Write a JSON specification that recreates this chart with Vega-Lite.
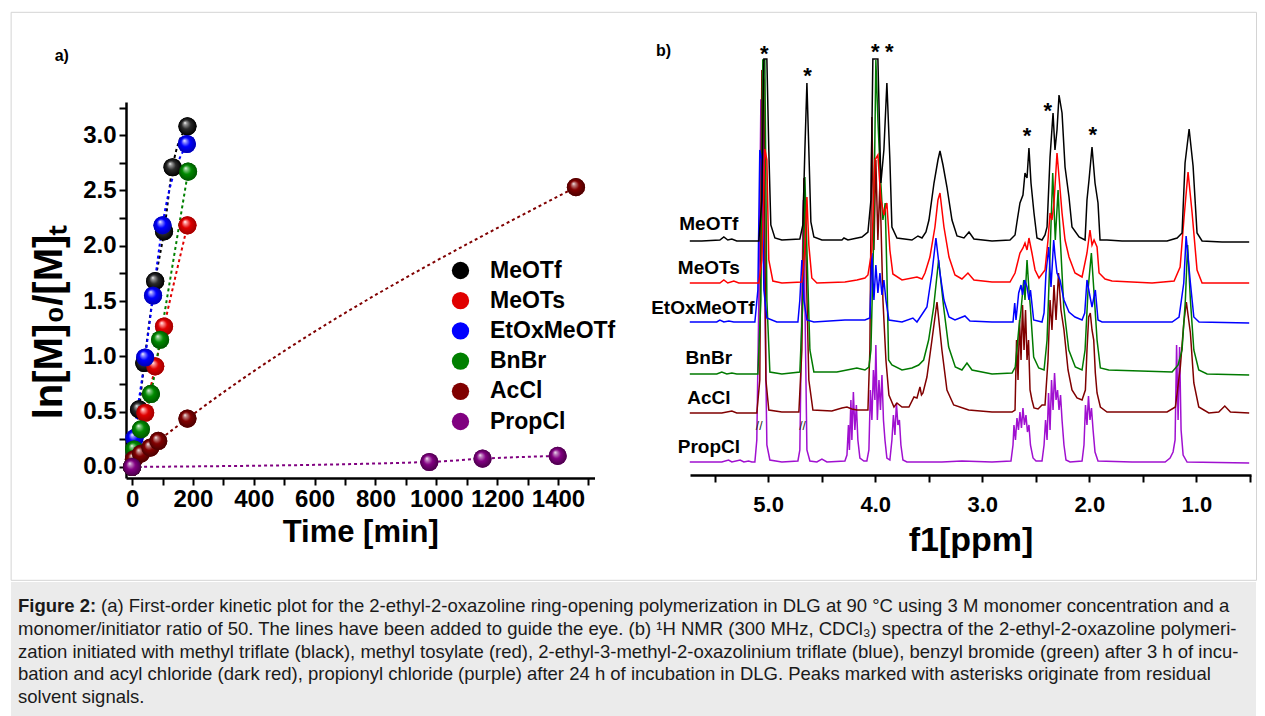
{
"$schema": "https://vega.github.io/schema/vega-lite/v6.json",
"padding": {"left": 10, "top": 11, "right": 0, "bottom": 0},
"background": "white",
"config": {"view": {"stroke": null}, "axis": {"grid": false}, "font": "Liberation Sans"},
"datasets": {
"kin": [
{"s":"MeOTf","t":0,"v":0},{"s":"MeOTf","t":23,"v":0.52},{"s":"MeOTf","t":40,"v":0.94},{"s":"MeOTf","t":76,"v":1.68},{"s":"MeOTf","t":105,"v":2.13},{"s":"MeOTf","t":133,"v":2.71},{"s":"MeOTf","t":182,"v":3.08},
{"s":"MeOTs","t":0,"v":0},{"s":"MeOTs","t":43,"v":0.49},{"s":"MeOTs","t":76,"v":0.91},{"s":"MeOTs","t":105,"v":1.27},{"s":"MeOTs","t":182,"v":2.185},
{"s":"EtOxMeOTf","t":0,"v":0},{"s":"EtOxMeOTf","t":8,"v":0.26},{"s":"EtOxMeOTf","t":43,"v":0.99},{"s":"EtOxMeOTf","t":69,"v":1.55},{"s":"EtOxMeOTf","t":100,"v":2.185},{"s":"EtOxMeOTf","t":180,"v":2.92},
{"s":"BnBr","t":0,"v":0},{"s":"BnBr","t":7,"v":0.16},{"s":"BnBr","t":29,"v":0.34},{"s":"BnBr","t":62,"v":0.66},{"s":"BnBr","t":92,"v":1.15},{"s":"BnBr","t":184,"v":2.67},
{"s":"AcCl","t":0,"v":0},{"s":"AcCl","t":6,"v":0.07},{"s":"AcCl","t":29,"v":0.12},{"s":"AcCl","t":60,"v":0.175},{"s":"AcCl","t":86,"v":0.235},{"s":"AcCl","t":182,"v":0.437},{"s":"AcCl","t":1459,"v":2.53},
{"s":"PropCl","t":0,"v":0},{"s":"PropCl","t":977,"v":0.045},{"s":"PropCl","t":1152,"v":0.075},{"s":"PropCl","t":1399,"v":0.1}
],
"MeOTf": [{"x":5.732,"y":234},{"x":5.62,"y":234},{"x":5.451,"y":235},{"x":5.414,"y":238},{"x":5.377,"y":235},{"x":5.339,"y":236},{"x":5.293,"y":234},{"x":5.087,"y":234},{"x":5.059,"y":275},{"x":5.04,"y":416},{"x":5.012,"y":416},{"x":4.994,"y":325},{"x":4.975,"y":250},{"x":4.937,"y":237},{"x":4.872,"y":235},{"x":4.704,"y":236},{"x":4.676,"y":250},{"x":4.657,"y":325},{"x":4.638,"y":392},{"x":4.62,"y":325},{"x":4.601,"y":253},{"x":4.573,"y":238},{"x":4.498,"y":235},{"x":4.311,"y":235},{"x":4.292,"y":237},{"x":4.255,"y":235},{"x":4.124,"y":238},{"x":4.068,"y":243},{"x":4.04,"y":275},{"x":4.022,"y":416},{"x":3.975,"y":416},{"x":3.947,"y":292},{"x":3.919,"y":325},{"x":3.891,"y":392},{"x":3.863,"y":315},{"x":3.844,"y":248},{"x":3.797,"y":237},{"x":3.657,"y":235},{"x":3.601,"y":239},{"x":3.563,"y":237},{"x":3.526,"y":243},{"x":3.498,"y":255},{"x":3.451,"y":292},{"x":3.414,"y":315},{"x":3.395,"y":324},{"x":3.367,"y":310},{"x":3.33,"y":288},{"x":3.283,"y":255},{"x":3.236,"y":239},{"x":3.171,"y":237},{"x":3.124,"y":243},{"x":3.078,"y":236},{"x":2.909,"y":234},{"x":2.741,"y":235},{"x":2.694,"y":240},{"x":2.676,"y":253},{"x":2.648,"y":272},{"x":2.62,"y":280},{"x":2.601,"y":302},{"x":2.582,"y":297},{"x":2.564,"y":327},{"x":2.545,"y":292},{"x":2.517,"y":262},{"x":2.489,"y":237},{"x":2.442,"y":235},{"x":2.414,"y":240},{"x":2.395,"y":248},{"x":2.367,"y":318},{"x":2.339,"y":362},{"x":2.321,"y":325},{"x":2.302,"y":345},{"x":2.283,"y":380},{"x":2.255,"y":362},{"x":2.227,"y":308},{"x":2.19,"y":278},{"x":2.162,"y":248},{"x":2.096,"y":238},{"x":2.04,"y":235},{"x":2.022,"y":275},{"x":2.003,"y":295},{"x":1.975,"y":328},{"x":1.947,"y":292},{"x":1.919,"y":272},{"x":1.9,"y":235},{"x":1.835,"y":235},{"x":1.694,"y":234},{"x":1.274,"y":234},{"x":1.18,"y":237},{"x":1.134,"y":242},{"x":1.106,"y":312},{"x":1.068,"y":346},{"x":1.031,"y":309},{"x":0.994,"y":242},{"x":0.947,"y":234},{"x":0.76,"y":233},{"x":0.507,"y":233}],
"MeOTs": [{"x":5.732,"y":192},{"x":5.451,"y":192},{"x":5.414,"y":195},{"x":5.377,"y":192},{"x":5.321,"y":194},{"x":5.274,"y":192},{"x":5.087,"y":192},{"x":5.059,"y":215},{"x":5.031,"y":326},{"x":5.012,"y":315},{"x":4.994,"y":215},{"x":4.956,"y":194},{"x":4.872,"y":192},{"x":4.685,"y":193},{"x":4.657,"y":225},{"x":4.638,"y":278},{"x":4.62,"y":230},{"x":4.592,"y":197},{"x":4.545,"y":192},{"x":4.283,"y":193},{"x":4.171,"y":195},{"x":4.096,"y":197},{"x":4.068,"y":200},{"x":4.031,"y":225},{"x":4.003,"y":315},{"x":3.975,"y":320},{"x":3.947,"y":275},{"x":3.919,"y":260},{"x":3.891,"y":272},{"x":3.863,"y":225},{"x":3.835,"y":201},{"x":3.75,"y":195},{"x":3.61,"y":198},{"x":3.563,"y":196},{"x":3.535,"y":202},{"x":3.489,"y":218},{"x":3.442,"y":248},{"x":3.414,"y":275},{"x":3.395,"y":282},{"x":3.358,"y":248},{"x":3.311,"y":218},{"x":3.255,"y":200},{"x":3.19,"y":196},{"x":3.134,"y":202},{"x":3.078,"y":195},{"x":2.909,"y":193},{"x":2.741,"y":193},{"x":2.694,"y":202},{"x":2.648,"y":222},{"x":2.62,"y":227},{"x":2.601,"y":232},{"x":2.582,"y":225},{"x":2.564,"y":237},{"x":2.536,"y":222},{"x":2.507,"y":205},{"x":2.47,"y":197},{"x":2.414,"y":205},{"x":2.386,"y":235},{"x":2.367,"y":262},{"x":2.349,"y":255},{"x":2.33,"y":272},{"x":2.302,"y":322},{"x":2.283,"y":298},{"x":2.255,"y":262},{"x":2.227,"y":235},{"x":2.19,"y":218},{"x":2.134,"y":202},{"x":2.068,"y":198},{"x":2.022,"y":222},{"x":1.994,"y":245},{"x":1.975,"y":230},{"x":1.956,"y":235},{"x":1.928,"y":228},{"x":1.909,"y":202},{"x":1.853,"y":196},{"x":1.788,"y":194},{"x":1.414,"y":192},{"x":1.208,"y":194},{"x":1.152,"y":208},{"x":1.115,"y":258},{"x":1.078,"y":303},{"x":1.04,"y":262},{"x":0.994,"y":205},{"x":0.947,"y":192},{"x":0.507,"y":192}],
"EtOxMeOTf": [{"x":5.732,"y":153},{"x":5.48,"y":153},{"x":5.451,"y":155},{"x":5.414,"y":153},{"x":5.367,"y":154},{"x":5.321,"y":153},{"x":5.124,"y":153},{"x":5.096,"y":185},{"x":5.078,"y":325},{"x":5.059,"y":315},{"x":5.04,"y":185},{"x":5.012,"y":157},{"x":4.919,"y":153},{"x":4.722,"y":153},{"x":4.704,"y":175},{"x":4.685,"y":215},{"x":4.666,"y":175},{"x":4.638,"y":155},{"x":4.573,"y":153},{"x":4.283,"y":155},{"x":4.096,"y":155},{"x":4.05,"y":157},{"x":4.031,"y":222},{"x":4.012,"y":175},{"x":3.994,"y":210},{"x":3.975,"y":182},{"x":3.956,"y":202},{"x":3.937,"y":180},{"x":3.919,"y":195},{"x":3.9,"y":175},{"x":3.872,"y":155},{"x":3.75,"y":153},{"x":3.648,"y":157},{"x":3.61,"y":153},{"x":3.517,"y":168},{"x":3.47,"y":202},{"x":3.433,"y":237},{"x":3.395,"y":202},{"x":3.358,"y":175},{"x":3.311,"y":158},{"x":3.255,"y":155},{"x":3.162,"y":159},{"x":3.115,"y":154},{"x":2.909,"y":153},{"x":2.713,"y":153},{"x":2.697,"y":172},{"x":2.685,"y":155},{"x":2.66,"y":182},{"x":2.638,"y":190},{"x":2.624,"y":180},{"x":2.604,"y":195},{"x":2.582,"y":188},{"x":2.564,"y":175},{"x":2.55,"y":185},{"x":2.52,"y":155},{"x":2.442,"y":153},{"x":2.423,"y":162},{"x":2.405,"y":202},{"x":2.38,"y":228},{"x":2.358,"y":188},{"x":2.333,"y":235},{"x":2.321,"y":220},{"x":2.302,"y":202},{"x":2.274,"y":195},{"x":2.237,"y":175},{"x":2.19,"y":163},{"x":2.134,"y":158},{"x":2.068,"y":155},{"x":2.043,"y":162},{"x":2.022,"y":195},{"x":2.0,"y":182},{"x":1.975,"y":168},{"x":1.944,"y":185},{"x":1.919,"y":155},{"x":1.881,"y":153},{"x":1.227,"y":153},{"x":1.162,"y":158},{"x":1.118,"y":192},{"x":1.096,"y":239},{"x":1.056,"y":192},{"x":1.024,"y":158},{"x":0.975,"y":153},{"x":0.507,"y":152}],
"BnBr": [{"x":5.732,"y":101},{"x":5.48,"y":101},{"x":5.433,"y":103},{"x":5.386,"y":101},{"x":5.339,"y":102},{"x":5.293,"y":101},{"x":5.096,"y":101},{"x":5.068,"y":175},{"x":5.05,"y":415},{"x":5.031,"y":415},{"x":5.012,"y":175},{"x":4.984,"y":103},{"x":4.872,"y":101},{"x":4.704,"y":103},{"x":4.676,"y":175},{"x":4.657,"y":298},{"x":4.638,"y":225},{"x":4.61,"y":125},{"x":4.573,"y":103},{"x":4.358,"y":103},{"x":4.264,"y":105},{"x":4.171,"y":107},{"x":4.096,"y":105},{"x":4.059,"y":108},{"x":4.04,"y":125},{"x":4.015,"y":235},{"x":3.994,"y":415},{"x":3.975,"y":355},{"x":3.953,"y":302},{"x":3.928,"y":255},{"x":3.907,"y":272},{"x":3.891,"y":202},{"x":3.875,"y":115},{"x":3.844,"y":110},{"x":3.75,"y":105},{"x":3.657,"y":107},{"x":3.594,"y":110},{"x":3.548,"y":115},{"x":3.501,"y":135},{"x":3.454,"y":168},{"x":3.408,"y":215},{"x":3.361,"y":168},{"x":3.314,"y":128},{"x":3.252,"y":108},{"x":3.19,"y":105},{"x":3.143,"y":112},{"x":3.096,"y":105},{"x":2.909,"y":101},{"x":2.722,"y":102},{"x":2.692,"y":108},{"x":2.66,"y":145},{"x":2.638,"y":165},{"x":2.613,"y":195},{"x":2.601,"y":175},{"x":2.582,"y":215},{"x":2.564,"y":185},{"x":2.551,"y":168},{"x":2.52,"y":118},{"x":2.473,"y":107},{"x":2.423,"y":105},{"x":2.395,"y":135},{"x":2.365,"y":228},{"x":2.342,"y":302},{"x":2.318,"y":235},{"x":2.292,"y":285},{"x":2.271,"y":235},{"x":2.239,"y":168},{"x":2.192,"y":125},{"x":2.131,"y":108},{"x":2.068,"y":105},{"x":2.04,"y":125},{"x":2.012,"y":185},{"x":1.981,"y":222},{"x":1.956,"y":182},{"x":1.928,"y":135},{"x":1.897,"y":107},{"x":1.819,"y":105},{"x":1.227,"y":103},{"x":1.171,"y":110},{"x":1.134,"y":125},{"x":1.103,"y":175},{"x":1.082,"y":230},{"x":1.056,"y":175},{"x":1.024,"y":125},{"x":0.978,"y":105},{"x":0.9,"y":101},{"x":0.507,"y":100}],
"AcCl": [{"x":5.732,"y":62},{"x":5.433,"y":62},{"x":5.339,"y":64},{"x":5.293,"y":62},{"x":5.106,"y":62},{"x":5.078,"y":95},{"x":5.059,"y":405},{"x":5.04,"y":395},{"x":5.021,"y":95},{"x":4.994,"y":65},{"x":4.872,"y":63},{"x":4.713,"y":63},{"x":4.685,"y":125},{"x":4.666,"y":297},{"x":4.648,"y":225},{"x":4.62,"y":95},{"x":4.582,"y":65},{"x":4.405,"y":64},{"x":4.311,"y":67},{"x":4.264,"y":68},{"x":4.218,"y":66},{"x":4.171,"y":65},{"x":4.068,"y":65},{"x":4.05,"y":125},{"x":4.031,"y":358},{"x":4.012,"y":225},{"x":3.994,"y":315},{"x":3.975,"y":235},{"x":3.956,"y":292},{"x":3.928,"y":175},{"x":3.9,"y":115},{"x":3.872,"y":80},{"x":3.825,"y":68},{"x":3.797,"y":72},{"x":3.75,"y":68},{"x":3.685,"y":68},{"x":3.638,"y":78},{"x":3.61,"y":77},{"x":3.582,"y":88},{"x":3.568,"y":80},{"x":3.554,"y":82},{"x":3.517,"y":98},{"x":3.47,"y":135},{"x":3.423,"y":173},{"x":3.377,"y":125},{"x":3.33,"y":85},{"x":3.267,"y":70},{"x":3.127,"y":65},{"x":2.909,"y":63},{"x":2.722,"y":63},{"x":2.694,"y":65},{"x":2.68,"y":135},{"x":2.666,"y":95},{"x":2.652,"y":155},{"x":2.638,"y":115},{"x":2.624,"y":170},{"x":2.61,"y":125},{"x":2.596,"y":165},{"x":2.582,"y":115},{"x":2.568,"y":135},{"x":2.554,"y":85},{"x":2.536,"y":75},{"x":2.517,"y":67},{"x":2.479,"y":66},{"x":2.442,"y":70},{"x":2.414,"y":70},{"x":2.386,"y":115},{"x":2.367,"y":175},{"x":2.349,"y":145},{"x":2.33,"y":190},{"x":2.311,"y":155},{"x":2.288,"y":202},{"x":2.265,"y":165},{"x":2.237,"y":145},{"x":2.199,"y":105},{"x":2.162,"y":85},{"x":2.115,"y":77},{"x":2.068,"y":75},{"x":2.037,"y":85},{"x":2.022,"y":125},{"x":2.006,"y":158},{"x":1.991,"y":162},{"x":1.975,"y":145},{"x":1.959,"y":135},{"x":1.944,"y":102},{"x":1.928,"y":82},{"x":1.897,"y":68},{"x":1.835,"y":63},{"x":1.274,"y":63},{"x":1.196,"y":68},{"x":1.15,"y":108},{"x":1.118,"y":152},{"x":1.094,"y":173},{"x":1.056,"y":142},{"x":1.024,"y":92},{"x":0.978,"y":68},{"x":0.884,"y":62},{"x":0.791,"y":63},{"x":0.735,"y":69},{"x":0.682,"y":63},{"x":0.507,"y":62}],
"PropCl": [{"x":5.732,"y":13},{"x":5.433,"y":13},{"x":5.37,"y":15},{"x":5.339,"y":13},{"x":5.262,"y":15},{"x":5.227,"y":13},{"x":5.183,"y":14},{"x":5.152,"y":13},{"x":5.124,"y":13},{"x":5.106,"y":35},{"x":5.087,"y":175},{"x":5.068,"y":375},{"x":5.05,"y":375},{"x":5.031,"y":175},{"x":5.012,"y":30},{"x":4.984,"y":15},{"x":4.872,"y":13},{"x":4.722,"y":14},{"x":4.704,"y":25},{"x":4.685,"y":175},{"x":4.671,"y":275},{"x":4.657,"y":175},{"x":4.638,"y":25},{"x":4.61,"y":14},{"x":4.545,"y":13},{"x":4.498,"y":16},{"x":4.451,"y":13},{"x":4.283,"y":14},{"x":4.264,"y":20},{"x":4.25,"y":50},{"x":4.241,"y":25},{"x":4.227,"y":75},{"x":4.218,"y":35},{"x":4.204,"y":83},{"x":4.19,"y":45},{"x":4.176,"y":70},{"x":4.162,"y":35},{"x":4.143,"y":17},{"x":4.106,"y":14},{"x":4.078,"y":14},{"x":4.059,"y":25},{"x":4.045,"y":85},{"x":4.031,"y":55},{"x":4.017,"y":105},{"x":4.003,"y":75},{"x":3.994,"y":130},{"x":3.98,"y":55},{"x":3.965,"y":95},{"x":3.951,"y":65},{"x":3.937,"y":100},{"x":3.923,"y":55},{"x":3.909,"y":35},{"x":3.891,"y":17},{"x":3.863,"y":15},{"x":3.844,"y":35},{"x":3.83,"y":60},{"x":3.816,"y":40},{"x":3.802,"y":72},{"x":3.788,"y":50},{"x":3.774,"y":55},{"x":3.76,"y":30},{"x":3.741,"y":15},{"x":3.704,"y":13},{"x":3.377,"y":13},{"x":3.19,"y":14},{"x":2.909,"y":13},{"x":2.732,"y":14},{"x":2.713,"y":30},{"x":2.704,"y":50},{"x":2.69,"y":35},{"x":2.676,"y":57},{"x":2.662,"y":45},{"x":2.648,"y":63},{"x":2.634,"y":47},{"x":2.62,"y":67},{"x":2.606,"y":50},{"x":2.592,"y":60},{"x":2.578,"y":43},{"x":2.564,"y":50},{"x":2.55,"y":30},{"x":2.526,"y":17},{"x":2.498,"y":14},{"x":2.442,"y":14},{"x":2.423,"y":30},{"x":2.409,"y":55},{"x":2.395,"y":35},{"x":2.381,"y":82},{"x":2.367,"y":45},{"x":2.353,"y":95},{"x":2.339,"y":65},{"x":2.325,"y":102},{"x":2.311,"y":75},{"x":2.297,"y":85},{"x":2.283,"y":65},{"x":2.269,"y":80},{"x":2.255,"y":55},{"x":2.237,"y":30},{"x":2.218,"y":15},{"x":2.18,"y":13},{"x":2.068,"y":14},{"x":2.05,"y":30},{"x":2.036,"y":70},{"x":2.022,"y":50},{"x":2.008,"y":79},{"x":1.994,"y":55},{"x":1.98,"y":67},{"x":1.965,"y":45},{"x":1.947,"y":23},{"x":1.919,"y":14},{"x":1.601,"y":13},{"x":1.292,"y":13},{"x":1.246,"y":17},{"x":1.218,"y":23},{"x":1.199,"y":35},{"x":1.185,"y":130},{"x":1.171,"y":55},{"x":1.157,"y":128},{"x":1.143,"y":45},{"x":1.124,"y":20},{"x":1.087,"y":13},{"x":0.507,"y":12}]
},
"spacing": 1,
"vconcat": [
{
"hconcat": [
{
"width": 468.5,
"height": 376,
"encoding": {
 "x": {"field": "t", "type": "quantitative", "title": "Time [min]",
   "scale": {"domain": [-20, 1520], "nice": false, "zero": false},
   "axis": {"values": [0,100,200,300,400,500,600,700,800,900,1000,1100,1200,1300,1400,1500],
     "labelExpr": "datum.value % 200 === 0 ? datum.value : ''",
     "domainColor": "black", "domainWidth": 2.5, "tickColor": "black", "tickWidth": 2, "tickSize": 7,
     "labelFont": "Liberation Sans", "labelFontSize": 24, "labelFontWeight": "bold", "labelColor": "black", "labelPadding": 2,
     "labelOverlap": false, "labelFlush": false,
     "titleFont": "Liberation Sans", "titleFontSize": 31, "titleFontWeight": "bold", "titleColor": "black", "titlePadding": 6}},
 "y": {"field": "v", "type": "quantitative", "title": "ln[M]₀/[M]ₜ",
   "scale": {"domain": [-0.1, 3.3], "nice": false, "zero": false},
   "axis": {"values": [0,0.25,0.5,0.75,1,1.25,1.5,1.75,2,2.25,2.5,2.75,3,3.25],
     "labelExpr": "datum.value % 0.5 === 0 ? format(datum.value, '.1f') : ''",
     "domainColor": "black", "domainWidth": 2.5, "tickColor": "black", "tickWidth": 2, "tickSize": 7,
     "labelFont": "Liberation Sans", "labelFontSize": 24, "labelFontWeight": "bold", "labelColor": "black", "labelPadding": 3,
     "labelOverlap": false, "labelFlush": false, "minExtent": 115,
     "titleFont": "Liberation Sans", "titleFontSize": 40, "titleFontWeight": "bold", "titleColor": "black",
     "titleX": -57, "titleY": 220, "titleAngle": 270, "titleBaseline": "bottom", "titleAlign": "center"}}
},
"layer": [
 {"data": {"name": "kin"}, "transform": [{"filter": "datum.s === 'MeOTf'"}], "mark": {"type": "line", "strokeDash": [3, 3], "strokeWidth": 2, "interpolate": "monotone", "color": "#000000"}, "encoding": {}},
 {"data": {"name": "kin"}, "transform": [{"filter": "datum.s === 'MeOTs'"}], "mark": {"type": "line", "strokeDash": [3, 3], "strokeWidth": 2, "interpolate": "monotone", "color": "#e00000"}, "encoding": {}},
 {"data": {"name": "kin"}, "transform": [{"filter": "datum.s === 'EtOxMeOTf'"}], "mark": {"type": "line", "strokeDash": [3, 3], "strokeWidth": 2, "interpolate": "monotone", "color": "#0000ff"}, "encoding": {}},
 {"data": {"name": "kin"}, "transform": [{"filter": "datum.s === 'BnBr'"}], "mark": {"type": "line", "strokeDash": [3, 3], "strokeWidth": 2, "interpolate": "monotone", "color": "#008000"}, "encoding": {}},
 {"data": {"name": "kin"}, "transform": [{"filter": "datum.s === 'AcCl'"}], "mark": {"type": "line", "strokeDash": [3, 3], "strokeWidth": 2, "interpolate": "monotone", "color": "#800000"}, "encoding": {}},
 {"data": {"name": "kin"}, "transform": [{"filter": "datum.s === 'PropCl'"}], "mark": {"type": "line", "strokeDash": [3, 3], "strokeWidth": 2, "interpolate": "monotone", "color": "#800080"}, "encoding": {}},
 {"data": {"name": "kin"},
  "mark": {"type": "point", "filled": true, "size": 330, "opacity": 1, "shape": "circle"},
  "encoding": {"color": {"field": "s", "type": "nominal",
    "scale": {"domain": ["MeOTf","MeOTs","EtOxMeOTf","BnBr","AcCl","PropCl"], "range": ["#000000","#e00000","#0000ff","#008000","#800000","#800080"]},
    "legend": {"orient": "none", "legendX": 323, "legendY": 157, "title": null,
      "labelFont": "Liberation Sans", "labelFontSize": 23, "labelFontWeight": "bold", "labelColor": "black",
      "symbolSize": 300, "symbolType": "circle", "symbolStrokeWidth": 0, "symbolOpacity": 1,
      "rowPadding": 6.2, "labelOffset": 18}}}},
 {"data": {"name": "kin"}, "transform": [{"filter": "datum.s === 'MeOTf'"}],
  "mark": {"type": "point", "filled": true, "size": 330, "opacity": 1, "shape": "circle",
   "fill": {"gradient": "radial", "x1": 0.36, "y1": 0.3, "r1": 0, "x2": 0.5, "y2": 0.5, "r2": 0.5,
    "stops": [{"offset": 0, "color": "#ffffff"}, {"offset": 0.16, "color": "#9a9a9a"}, {"offset": 0.5, "color": "#2a2a2a"}, {"offset": 1, "color": "#000000"}]}}},
 {"data": {"name": "kin"}, "transform": [{"filter": "datum.s === 'MeOTs'"}],
  "mark": {"type": "point", "filled": true, "size": 330, "opacity": 1, "shape": "circle",
   "fill": {"gradient": "radial", "x1": 0.36, "y1": 0.3, "r1": 0, "x2": 0.5, "y2": 0.5, "r2": 0.5,
    "stops": [{"offset": 0, "color": "#ffffff"}, {"offset": 0.16, "color": "#ff9a9a"}, {"offset": 0.5, "color": "#e00000"}, {"offset": 1, "color": "#a00000"}]}}},
 {"data": {"name": "kin"}, "transform": [{"filter": "datum.s === 'EtOxMeOTf'"}],
  "mark": {"type": "point", "filled": true, "size": 330, "opacity": 1, "shape": "circle",
   "fill": {"gradient": "radial", "x1": 0.36, "y1": 0.3, "r1": 0, "x2": 0.5, "y2": 0.5, "r2": 0.5,
    "stops": [{"offset": 0, "color": "#ffffff"}, {"offset": 0.16, "color": "#9a9aff"}, {"offset": 0.5, "color": "#0000ff"}, {"offset": 1, "color": "#0000b0"}]}}},
 {"data": {"name": "kin"}, "transform": [{"filter": "datum.s === 'BnBr'"}],
  "mark": {"type": "point", "filled": true, "size": 330, "opacity": 1, "shape": "circle",
   "fill": {"gradient": "radial", "x1": 0.36, "y1": 0.3, "r1": 0, "x2": 0.5, "y2": 0.5, "r2": 0.5,
    "stops": [{"offset": 0, "color": "#ffffff"}, {"offset": 0.16, "color": "#8ccc8c"}, {"offset": 0.5, "color": "#008a00"}, {"offset": 1, "color": "#005500"}]}}},
 {"data": {"name": "kin"}, "transform": [{"filter": "datum.s === 'AcCl'"}],
  "mark": {"type": "point", "filled": true, "size": 330, "opacity": 1, "shape": "circle",
   "fill": {"gradient": "radial", "x1": 0.36, "y1": 0.3, "r1": 0, "x2": 0.5, "y2": 0.5, "r2": 0.5,
    "stops": [{"offset": 0, "color": "#ffffff"}, {"offset": 0.16, "color": "#c48a8a"}, {"offset": 0.5, "color": "#820000"}, {"offset": 1, "color": "#4a0000"}]}}},
 {"data": {"name": "kin"}, "transform": [{"filter": "datum.s === 'PropCl'"}],
  "mark": {"type": "point", "filled": true, "size": 330, "opacity": 1, "shape": "circle",
   "fill": {"gradient": "radial", "x1": 0.36, "y1": 0.3, "r1": 0, "x2": 0.5, "y2": 0.5, "r2": 0.5,
    "stops": [{"offset": 0, "color": "#ffffff"}, {"offset": 0.16, "color": "#c48ac4"}, {"offset": 0.5, "color": "#820082"}, {"offset": 1, "color": "#4a004a"}]}}},
 {"data": {"values": [{"t": -231, "v": 3.716, "lab": "a)"}]},
  "mark": {"type": "text", "font": "Liberation Sans", "fontSize": 16, "fontWeight": "bold", "color": "black", "align": "center", "baseline": "middle"},
  "encoding": {"text": {"field": "lab"}}}
]
},
{
"width": 561,
"height": 373,
"encoding": {
 "x": {"field": "x", "type": "quantitative", "title": "f1[ppm]",
   "scale": {"domain": [0.49, 5.73], "reverse": true, "nice": false, "zero": false},
   "axis": {"values": [5.5,5,4.5,4,3.5,3,2.5,2,1.5,1,0.5],
     "labelExpr": "datum.value % 1 === 0 ? format(datum.value, '.1f') : ''",
     "domainColor": "black", "domainWidth": 2.5, "tickColor": "black", "tickWidth": 2, "tickSize": 7,
     "labelFont": "Liberation Sans", "labelFontSize": 22, "labelFontWeight": "bold", "labelColor": "black", "labelPadding": 12,
     "labelOverlap": false, "labelFlush": false,
     "titleFont": "Liberation Sans", "titleFontSize": 34, "titleFontWeight": "bold", "titleColor": "black", "titlePadding": 8}},
 "y": {"field": "y", "type": "quantitative", "scale": {"domain": [0, 373], "nice": false, "zero": false}, "axis": null}
},
"layer": [
 {"data": {"values": [{"x": 0, "y": 0}]},
  "mark": {"type": "rect", "filled": false, "color": "#d4d4d4", "strokeWidth": 1},
  "encoding": {"x": {"datum": 12.071, "type": "quantitative"}, "x2": {"datum": 0.4386}, "y": {"datum": 462.7, "type": "quantitative"}, "y2": {"datum": -105.3}}},
 {"data": {"name": "PropCl"}, "mark": {"type": "line", "color": "#a010d0", "strokeWidth": 1.5}, "encoding": {}},
 {"data": {"name": "AcCl"}, "mark": {"type": "line", "color": "#800000", "strokeWidth": 1.5}, "encoding": {}},
 {"data": {"name": "BnBr"}, "mark": {"type": "line", "color": "#007a00", "strokeWidth": 1.5}, "encoding": {}},
 {"data": {"name": "EtOxMeOTf"}, "mark": {"type": "line", "color": "#0000ff", "strokeWidth": 1.5}, "encoding": {}},
 {"data": {"name": "MeOTs"}, "mark": {"type": "line", "color": "#ff0000", "strokeWidth": 1.5}, "encoding": {}},
 {"data": {"name": "MeOTf"}, "mark": {"type": "line", "color": "#000000", "strokeWidth": 1.5}, "encoding": {}},
 {"data": {"values": [{"x": 5.554, "y": 251, "t": "MeOTf"}, {"x": 5.554, "y": 207.5, "t": "MeOTs"}, {"x": 5.61, "y": 167, "t": "EtOxMeOTf"}, {"x": 5.554, "y": 117, "t": "BnBr"}, {"x": 5.554, "y": 77, "t": "AcCl"}, {"x": 5.554, "y": 28.5, "t": "PropCl"}]},
  "mark": {"type": "text", "font": "Liberation Sans", "fontSize": 19, "fontWeight": "bold", "color": "black", "align": "center", "baseline": "middle"},
  "encoding": {"text": {"field": "t"}}},
 {"data": {"values": [{"x": 5.037, "y": 427}, {"x": 4.632, "y": 405}, {"x": 4.0, "y": 429}, {"x": 3.869, "y": 429}, {"x": 2.582, "y": 345}, {"x": 2.389, "y": 370}, {"x": 1.968, "y": 346}]},
  "mark": {"type": "text", "font": "Liberation Sans", "fontSize": 22, "fontWeight": "bold", "color": "black", "align": "center", "baseline": "middle", "dy": 6},
  "encoding": {"text": {"value": "*"}}},
 {"data": {"values": [{"x": 5.084, "y": 49}, {"x": 4.679, "y": 49}]},
  "mark": {"type": "text", "font": "Liberation Sans", "fontSize": 12, "color": "#222222", "align": "center", "baseline": "middle"},
  "encoding": {"text": {"value": "//"}}},
 {"data": {"values": [{"x": 5.978, "y": 424, "t": "b)"}]},
  "mark": {"type": "text", "font": "Liberation Sans", "fontSize": 16, "fontWeight": "bold", "color": "black", "align": "center", "baseline": "middle"},
  "encoding": {"text": {"field": "t"}}}
]
}
],
"bounds": "flush",
"spacing": 95
},
{
"hconcat": [
{
"width": 1130,
"height": 134,
"view": {"stroke": null},
"encoding": {
 "x": {"datum": 0, "type": "quantitative", "scale": {"domain": [0, 1], "nice": false, "zero": false}, "axis": null},
 "y": {"field": "ln", "type": "quantitative", "scale": {"domain": [-0.055, 5.835], "reverse": true, "nice": false, "zero": false}, "axis": null}
},
"layer": [
 {"data": {"values": [{"ln": 0}]},
  "mark": {"type": "rect", "color": "#ebebeb"},
  "encoding": {"x": {"datum": -0.10177, "type": "quantitative"}, "x2": {"datum": 1}, "y": {"datum": -0.055, "type": "quantitative"}, "y2": {"datum": 5.835}}},
 {"data": {"values": [{"ln": 1, "t": "Figure 2:"}]},
  "mark": {"type": "text", "align": "left", "baseline": "middle", "dx": -108, "font": "Liberation Sans", "fontSize": 18.5, "fontWeight": "bold", "color": "#1a1a1a"},
  "encoding": {"text": {"field": "t"}}},
 {"data": {"values": [{"ln": 1, "t": "(a) First-order kinetic plot for the 2-ethyl-2-oxazoline ring-opening polymerization in DLG at 90 °C using 3 M monomer concentration and a"}]},
  "mark": {"type": "text", "align": "left", "baseline": "middle", "dx": -25, "font": "Liberation Sans", "fontSize": 18.5, "color": "#1a1a1a"},
  "encoding": {"text": {"field": "t"}}},
 {"data": {"values": [
   {"ln": 2, "t": "monomer/initiator ratio of 50. The lines have been added to guide the eye. (b) ¹H NMR (300 MHz, CDCl₃) spectra of the 2-ethyl-2-oxazoline polymeri-"},
   {"ln": 3, "t": "zation initiated with methyl triflate (black), methyl tosylate (red), 2-ethyl-3-methyl-2-oxazolinium triflate (blue), benzyl bromide (green) after 3 h of incu-"},
   {"ln": 4, "t": "bation and acyl chloride (dark red), propionyl chloride (purple) after 24 h of incubation in DLG. Peaks marked with asterisks originate from residual"},
   {"ln": 5, "t": "solvent signals."}]},
  "mark": {"type": "text", "align": "left", "baseline": "middle", "dx": -108, "font": "Liberation Sans", "fontSize": 18.5, "color": "#1a1a1a"},
  "encoding": {"text": {"field": "t"}}}
]
}
],
"bounds": "flush"
}
]
}
